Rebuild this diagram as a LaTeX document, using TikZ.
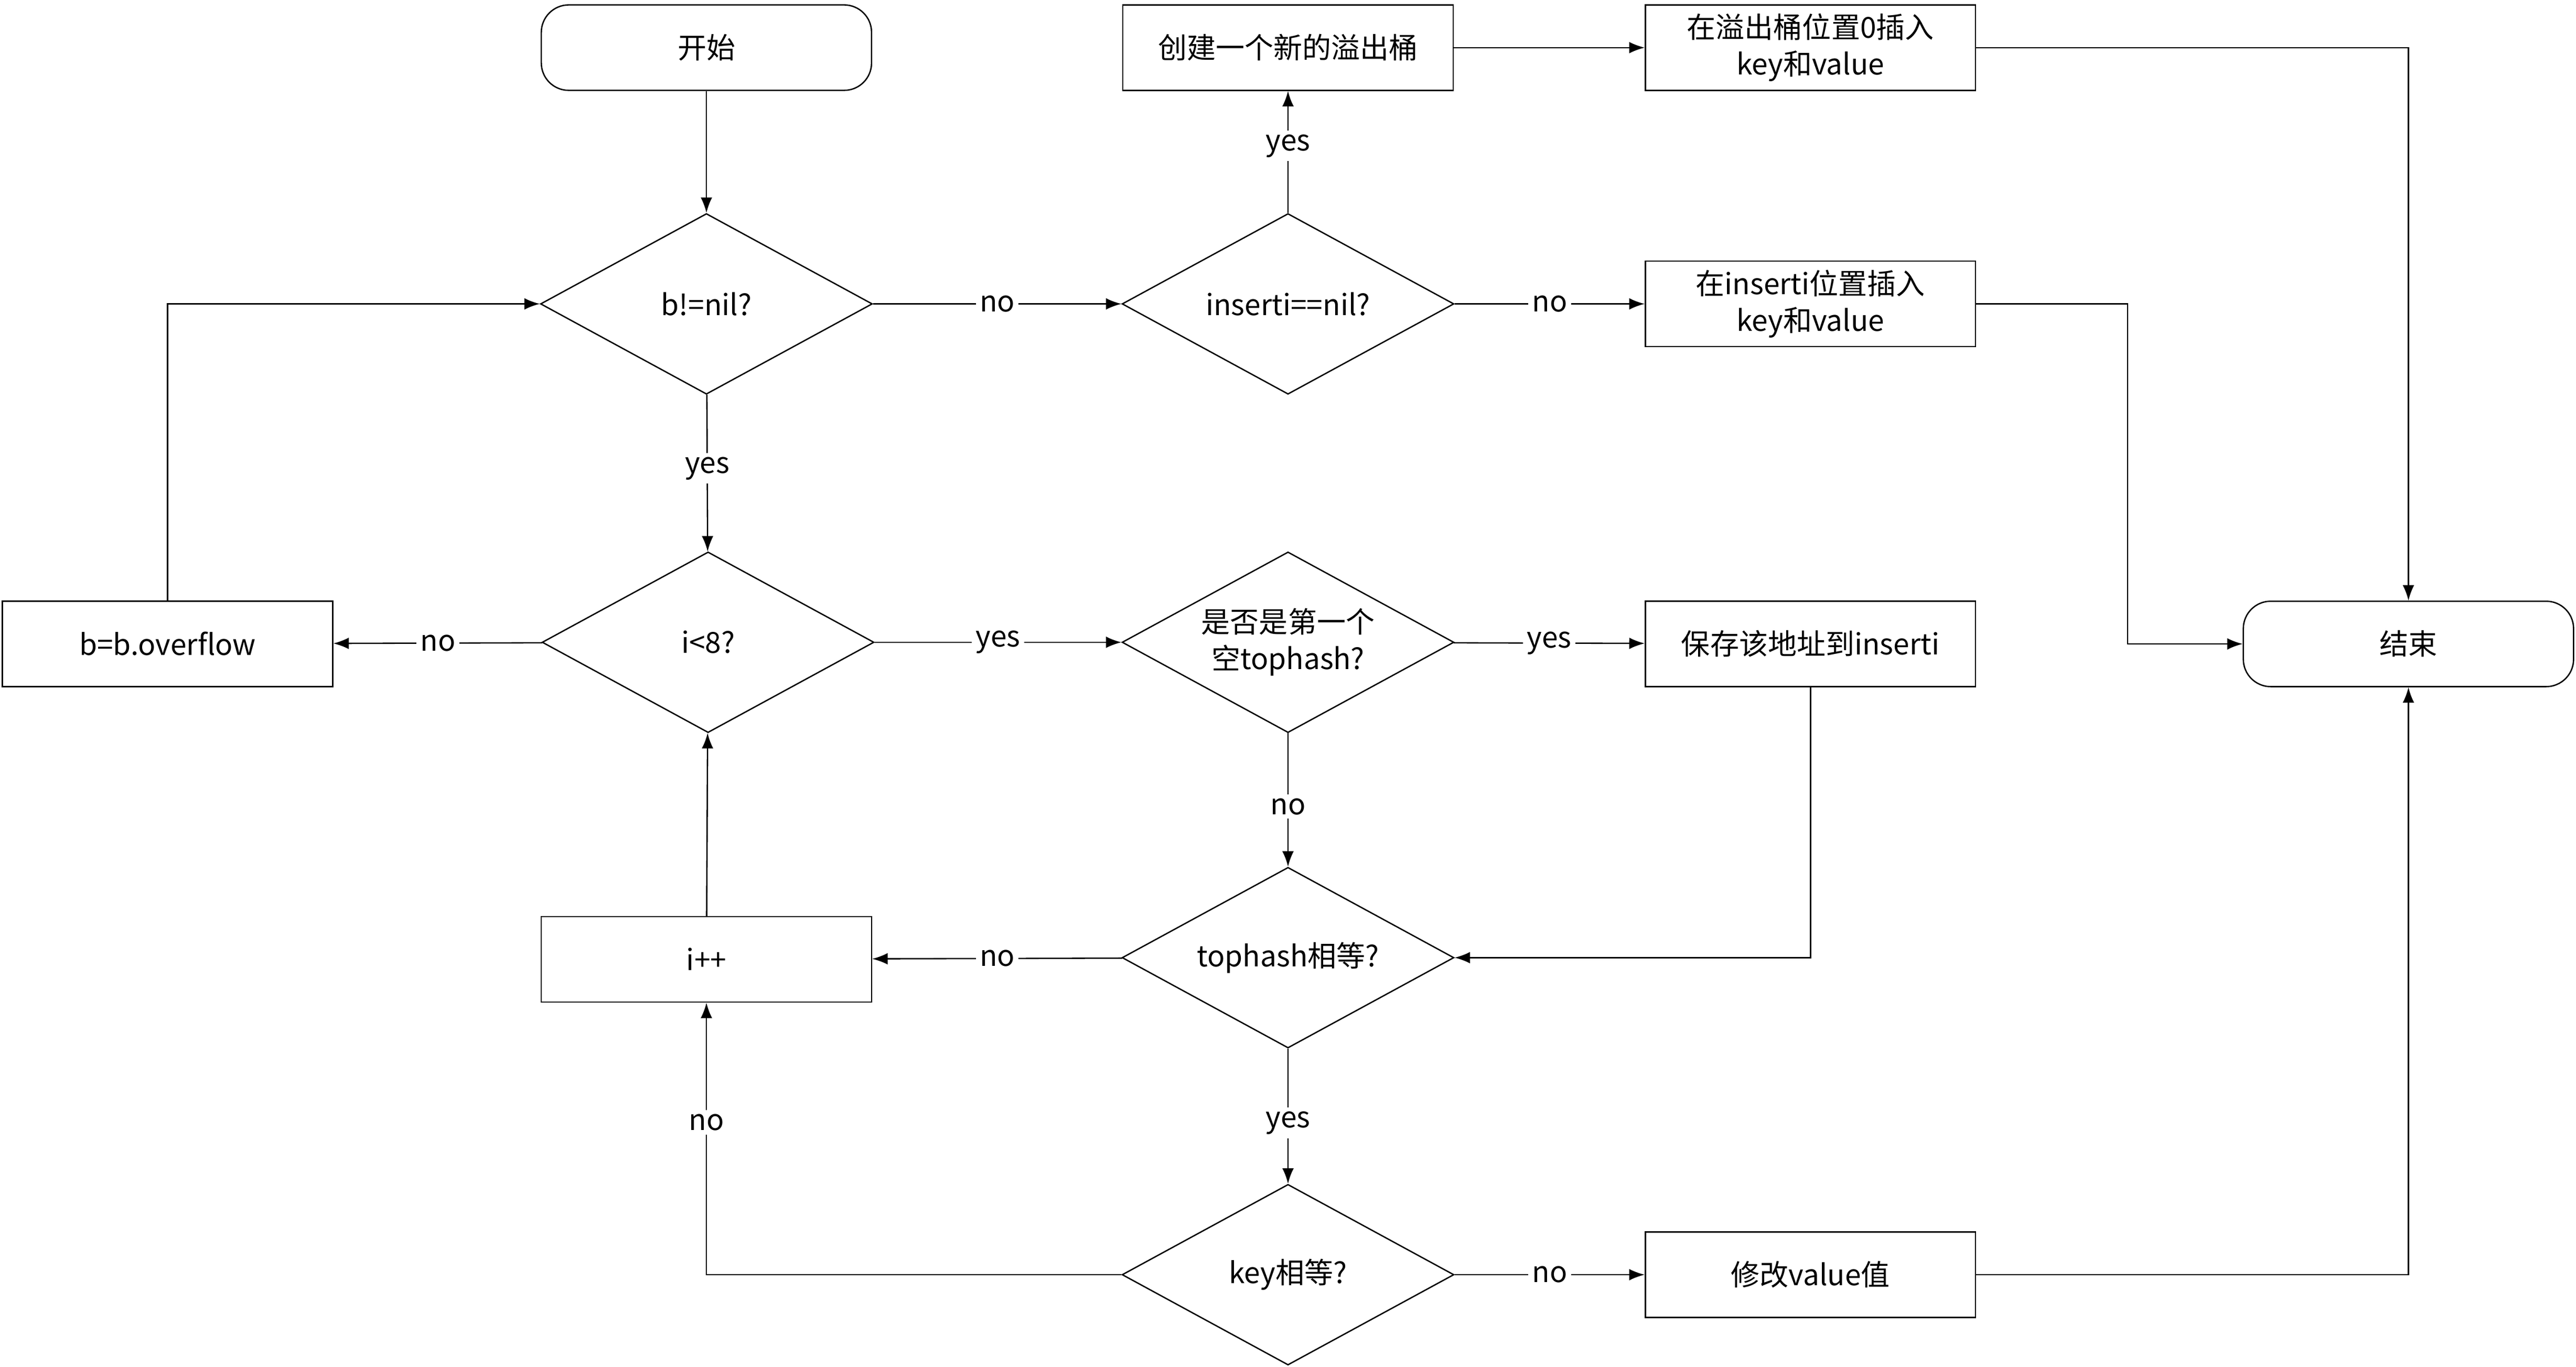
\documentclass[tikz,border=0pt]{standalone}
\usepackage{fontspec}
\setmainfont{Noto Sans CJK SC}
\usetikzlibrary{shapes.geometric,arrows.meta}
\begin{document}
\begin{tikzpicture}[x=0.03cm,y=-0.03cm,
  every node/.style={font=\fontsize{15}{19}\selectfont},
  box/.style={draw,line width=0.7pt,minimum width=6.03cm,minimum height=1.56cm,inner sep=0pt,align=center},
  term/.style={box,rounded corners=0.5cm},
  dia/.style={draw,line width=0.7pt,diamond,shape aspect=1.83,minimum width=6.06cm,minimum height=3.3cm,inner sep=0pt,align=center},
  ar/.style={draw,line width=0.7pt,-{Latex[length=8pt,width=6pt]}},
  lb/.style={fill=white,inner sep=2pt}]
\useasboundingbox (0,0) rectangle (1568,832);
\node[term] (start) at (430,29) {开始};
\node[dia] (bnil) at (430,185) {b!=nil?};
\node[dia] (inil) at (784,185) {inserti==nil?};
\node[box] (newb) at (784,29) {创建一个新的溢出桶};
\node[box] (ins0) at (1102,29) {在溢出桶位置0插入\\key和value};
\node[box] (insi) at (1102,185) {在inserti位置插入\\key和value};
\node[term] (end) at (1466,392) {结束};
\node[dia] (i8) at (431,391) {i<8?};
\node[box] (bov) at (102,392) {b=b.overflow};
\node[dia] (first) at (784,391) {是否是第一个\\空tophash?};
\node[box] (save) at (1102,392) {保存该地址到inserti};
\node[dia] (th) at (784,583) {tophash相等?};
\node[box] (ipp) at (430,584) {i++};
\node[dia] (key) at (784,776) {key相等?};
\node[box] (mod) at (1102,776) {修改value值};

\draw[ar] (start) -- (bnil);
\draw[ar] (bnil) -- node[lb]{no} (inil);
\draw[ar] (bnil) -- node[lb,pos=0.47]{yes} (i8);
\draw[ar] (inil) -- node[lb,pos=0.55]{yes} (newb);
\draw[ar] (inil) -- node[lb]{no} (insi);
\draw[ar] (newb) -- (ins0);
\draw[ar] (ins0.east) -| (end.north);
\draw[ar] (insi.east) -- (1295,185) |- (end.west);
\draw[ar] (i8) -- node[lb]{no} (bov);
\draw[ar] (bov.north) |- (bnil.west);
\draw[ar] (i8) -- node[lb]{yes} (first);
\draw[ar] (first) -- node[lb]{yes} (save);
\draw[ar] (first) -- node[lb,pos=0.55]{no} (th);
\draw[ar] (save.south) |- (th.east);
\draw[ar] (th) -- node[lb]{no} (ipp);
\draw[ar] (th) -- node[lb,pos=0.55]{yes} (key);
\draw[ar] (ipp) -- (i8);
\draw[ar] (key.west) -| node[lb,pos=0.78]{no} (ipp.south);
\draw[ar] (key) -- node[lb]{no} (mod);
\draw[ar] (mod.east) -| (end.south);
\end{tikzpicture}
\end{document}
